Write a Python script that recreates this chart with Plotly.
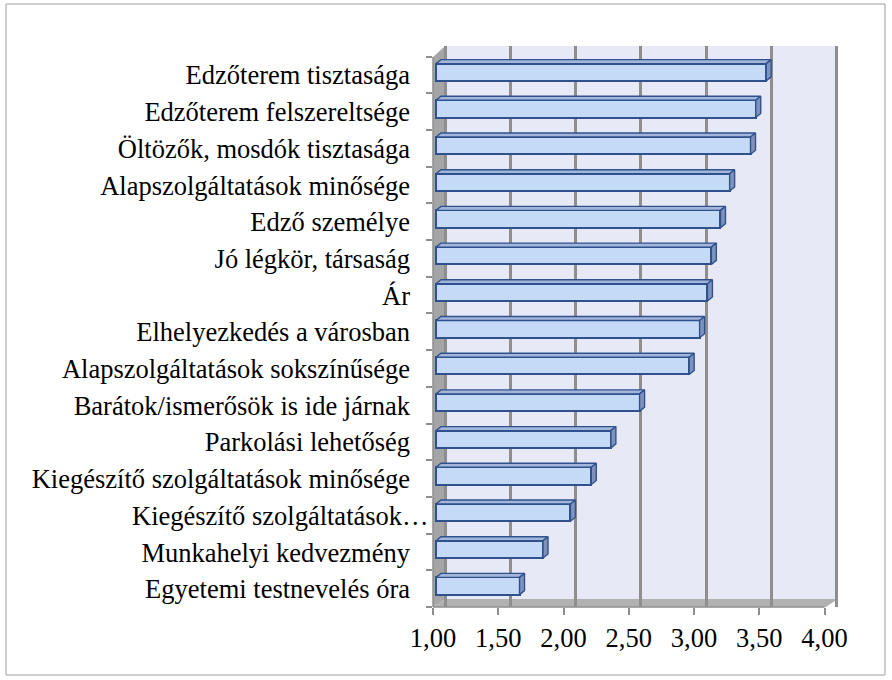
import plotly.graph_objects as go

# ---- data ----
categories = [
    "Edzőterem tisztasága",
    "Edzőterem felszereltsége",
    "Öltözők, mosdók tisztasága",
    "Alapszolgáltatások minősége",
    "Edző személye",
    "Jó légkör, társaság",
    "Ár",
    "Elhelyezkedés a városban",
    "Alapszolgáltatások sokszínűsége",
    "Barátok/ismerősök is ide járnak",
    "Parkolási lehetőség",
    "Kiegészítő szolgáltatások minősége",
    "Kiegészítő szolgáltatások…",
    "Munkahelyi kedvezmény",
    "Egyetemi testnevelés óra",
]
values = [3.53, 3.45, 3.41, 3.25, 3.18, 3.11, 3.08, 3.02, 2.94, 2.56, 2.34, 2.19, 2.03, 1.82, 1.64]
x_ticks = [1.0, 1.5, 2.0, 2.5, 3.0, 3.5, 4.0]
x_tick_labels = ["1,00", "1,50", "2,00", "2,50", "3,00", "3,50", "4,00"]

# ---- geometry / style ----
W, H = 892, 680
PL, PR, PT, PB = 433, 838, 46, 607          # plot area in pixels
PXU = 130.5                                  # pixels per value unit (front plane)
PYU = (PB - PT) / 15.286                     # pixels per category unit
X0 = 1.0
X1 = X0 + (PR - PL) / PXU
Y0 = -0.572
Y1 = Y0 + (PB - PT) / PYU
WALL_DX = 12 / PXU                           # depth offset of back wall (x units)
BAR_SHIFT = 3 / PXU                          # bars sit slightly behind the front plane
BAR_W = 0.47
CAP_DX = 5 / PXU
CAP_DY = 4 / PYU
LABEL_SHIFT = -0.08
FS = 26.5

FONT = "Liberation Serif, Times New Roman, serif"
OUTLINE = "#2F528F"
FACE = "#C4DAF7"
TOP = "#A3B6DA"
END = "#7F93BA"
WALL = "#A5A5A5"
FLOOR = "#B1B1B1"
BACK = "#E8E9F6"
GRID = "#8E8E8E"

n = len(categories)
ypos = [n - 1 - i for i in range(n)]
base = X0 + BAR_SHIFT
ends = [base + (v - X0) for v in values]
overflow = [c.endswith("…") for c in categories]   # truncated label hangs past the others


def px(xp):
    return (xp - PL) / (PR - PL)


def py(yp):
    return (PB - yp) / (PB - PT)


fig = go.Figure()

# front faces of bars
fig.add_trace(go.Bar(
    y=ypos, x=[v - X0 for v in values], base=base, orientation="h",
    width=BAR_W, marker=dict(color=FACE, line=dict(color=OUTLINE, width=2)),
    hoverinfo="skip", showlegend=False,
))

# top and end faces (3D caps), derived from the values
tx, ty, ex, ey = [], [], [], []
for e, y in zip(ends, ypos):
    top = y + BAR_W / 2
    bot = y - BAR_W / 2
    tx += [base, e, e + CAP_DX, base + CAP_DX, base, None]
    ty += [top, top, top + CAP_DY, top + CAP_DY, top, None]
    ex += [e, e + CAP_DX, e + CAP_DX, e, e, None]
    ey += [bot, bot + CAP_DY, top + CAP_DY, top, bot, None]
fig.add_trace(go.Scatter(x=tx, y=ty, mode="lines", fill="toself", fillcolor=TOP,
                         line=dict(color=OUTLINE, width=1.4), hoverinfo="skip", showlegend=False))
fig.add_trace(go.Scatter(x=ex, y=ey, mode="lines", fill="toself", fillcolor=END,
                         line=dict(color=OUTLINE, width=1.4), hoverinfo="skip", showlegend=False))

# dummy trace to activate the back-wall grid axis
fig.add_trace(go.Scatter(x=[None], y=[None], xaxis="x2", showlegend=False, hoverinfo="skip"))

shapes = []
# left wall
shapes.append(dict(type="path", xref="paper", yref="paper", layer="between",
                   path=f"M {px(PL)},{py(57)} L {px(445)},{py(PT)} L {px(445)},{py(599)} L {px(PL)},{py(PB)} Z",
                   fillcolor=WALL, line=dict(width=0)))
# white corner above the left wall
shapes.append(dict(type="path", xref="paper", yref="paper", layer="between",
                   path=f"M {px(PL)},{py(57)} L {px(445)},{py(PT)} L {px(PL)},{py(PT)} Z",
                   fillcolor="white", line=dict(width=0)))
# floor
shapes.append(dict(type="path", xref="paper", yref="paper", layer="between",
                   path=f"M {px(PL)},{py(PB)} L {px(445)},{py(599)} L {px(PR)},{py(599)} L {px(826)},{py(PB)} Z",
                   fillcolor=FLOOR, line=dict(width=0)))
shapes.append(dict(type="path", xref="paper", yref="paper", layer="between",
                   path=f"M {px(826)},{py(PB)} L {px(PR)},{py(599)} L {px(PR)},{py(PB)} Z",
                   fillcolor="white", line=dict(width=0)))
# front value axis line
shapes.append(dict(type="line", xref="x", yref="paper", x0=X0, x1=4.0, y0=0, y1=0,
                   line=dict(color=GRID, width=1.5), layer="above"))
# left category axis line
shapes.append(dict(type="line", xref="paper", yref="paper", x0=0, x1=0, y0=0, y1=py(57),
                   line=dict(color=GRID, width=1.5), layer="above"))
# outer chart border
shapes.append(dict(type="rect", xref="paper", yref="paper",
                   x0=px(6), x1=px(885), y0=py(675), y1=py(4),
                   line=dict(color="#A0A0A0", width=1), fillcolor="rgba(0,0,0,0)"))

annotations = []
for c, y, o in zip(categories, ypos, overflow):
    if o:
        annotations.append(dict(text=c, xref="paper", yref="y", x=px(431), y=y + LABEL_SHIFT,
                                xanchor="right", yanchor="middle", showarrow=False,
                                font=dict(family=FONT, size=FS, color="black")))

fig.update_layout(
    width=W, height=H,
    margin=dict(l=PL, r=W - PR, t=PT, b=H - PB, pad=0),
    paper_bgcolor="white", plot_bgcolor=BACK,
    font=dict(family=FONT, size=FS, color="black"),
    bargap=0,
    shapes=shapes,
    annotations=annotations,
    xaxis=dict(range=[X0, X1], tickvals=x_ticks, ticktext=x_tick_labels,
               showgrid=False, zeroline=False, showline=False,
               ticks="outside", ticklen=7, tickcolor=GRID, tickwidth=1.5,
               tickfont=dict(family=FONT, size=FS), fixedrange=True),
    xaxis2=dict(range=[X0 - WALL_DX, X1 - WALL_DX], overlaying="x", side="bottom",
                tickvals=x_ticks, showticklabels=False, ticks="",
                showgrid=True, gridcolor=GRID, gridwidth=2.5, zeroline=False, showline=False),
    yaxis=dict(range=[Y0, Y1], tickvals=[y + LABEL_SHIFT for y in ypos],
               ticktext=["" if o else c for c, o in zip(categories, overflow)],
               showgrid=False, zeroline=False, showline=False, ticks="",
               ticklabelstandoff=22,
               tickfont=dict(family=FONT, size=FS),
               minor=dict(tick0=Y0, dtick=1, ticks="outside", ticklen=6,
                          tickcolor=GRID, tickwidth=1.5, showgrid=False)),
)

fig.write_html("out.html")
